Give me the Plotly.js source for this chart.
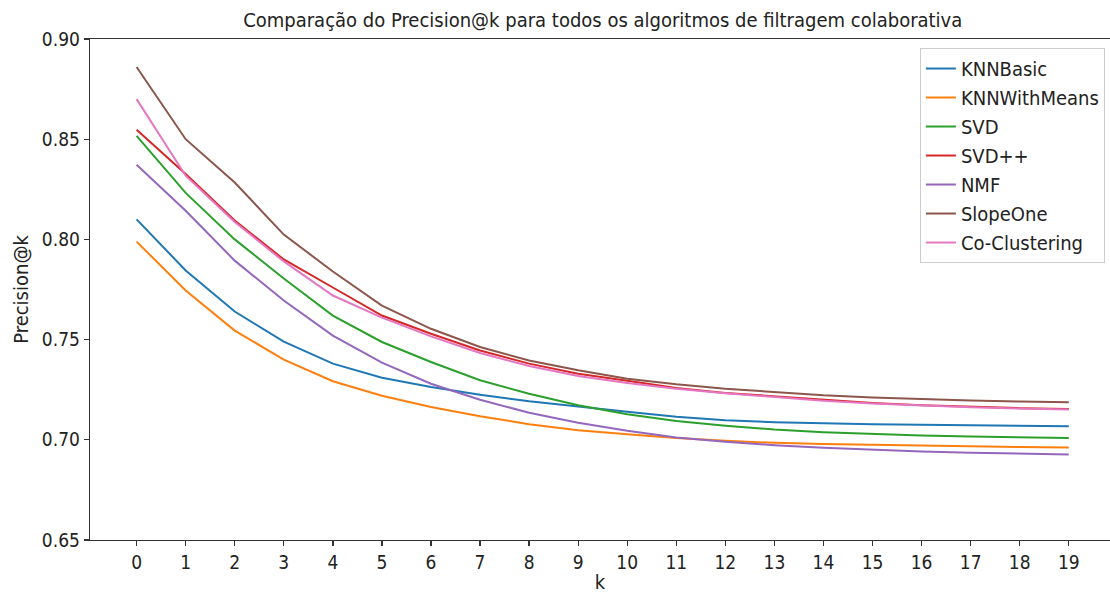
<!DOCTYPE html>
<html>
<head>
<meta charset="utf-8">
<script src="https://cdn.plot.ly/plotly-3.0.1.min.js"></script>
<style>html,body{margin:0;padding:0;background:#fff;}#chart{width:1110px;height:594px;}</style>
</head>
<body>
<div id="chart"></div>
<script>
const kValues = [0,1,2,3,4,5,6,7,8,9,10,11,12,13,14,15,16,17,18,19];
const seriesNames = ["KNNBasic","KNNWithMeans","SVD","SVD++","NMF","SlopeOne","Co-Clustering"];
const knnBasic = [0.810,0.7845,0.764,0.749,0.738,0.731,0.7263,0.7225,0.7192,0.7165,0.7140,0.7115,0.7098,0.7088,0.7082,0.7078,0.7075,0.7072,0.7070,0.7068];
const knnWithMeans = [0.7989,0.7745,0.7545,0.740,0.7292,0.7220,0.7164,0.7118,0.7078,0.7048,0.7028,0.7009,0.6995,0.6985,0.6979,0.6975,0.6970,0.6967,0.6964,0.6962];
const svd = [0.8517,0.8232,0.800,0.7805,0.762,0.7488,0.7388,0.7297,0.723,0.7172,0.7128,0.7094,0.7070,0.7051,0.7038,0.7028,0.7021,0.7016,0.7012,0.7009];
const svdpp = [0.8547,0.8326,0.8094,0.790,0.776,0.762,0.7529,0.7446,0.738,0.733,0.7295,0.7258,0.7234,0.7217,0.7198,0.7184,0.7172,0.7164,0.7158,0.7154];
const nmf = [0.8373,0.8143,0.7894,0.7695,0.752,0.7385,0.728,0.7200,0.7135,0.7085,0.7045,0.7012,0.6990,0.6973,0.6960,0.6950,0.6942,0.6936,0.6931,0.6927];
const slopeOne = [0.886,0.850,0.8284,0.8024,0.784,0.767,0.7554,0.7463,0.7396,0.7347,0.7305,0.7277,0.7255,0.7239,0.7222,0.7211,0.7203,0.7196,0.7191,0.7187];
const coClustering = [0.870,0.8318,0.8087,0.789,0.772,0.761,0.7516,0.7433,0.7368,0.7318,0.7284,0.7255,0.7232,0.7214,0.7195,0.7181,0.7170,0.7162,0.7156,0.7151];
const yTicks = [0.65,0.70,0.75,0.80,0.85,0.90];
const yTickText = ["0.65","0.70","0.75","0.80","0.85","0.90"];

const allSeries = [knnBasic,knnWithMeans,svd,svdpp,nmf,slopeOne,coClustering];
const colors = ["#1f77b4","#ff7f0e","#2ca02c","#d62728","#9467bd","#8c564b","#e377c2"];
const font = "DejaVu Sans Condensed, DejaVu Sans, sans-serif";

const traces = allSeries.map((ys,i)=>({
  x: kValues, y: ys, name: seriesNames[i], type: "scatter", mode: "lines",
  line: {color: colors[i], width: 2}
}));

const layout = {
  width: 1110, height: 594,
  margin: {l: 90, r: 0, t: 39, b: 54, pad: 0},
  paper_bgcolor: "#fff", plot_bgcolor: "#fff",
  font: {family: font, size: 19, color: "#222"},
  title: {text: "Comparação do Precision@k para todos os algoritmos de filtragem colaborativa",
          font: {family: font, size: 20, color: "#222"}, x: 0.543, xanchor: "center", y: 0.967, yanchor: "middle"},
  xaxis: {
    range: [-0.95, 19.84], tickmode: "array", tickvals: kValues, ticktext: kValues.map(String),
    showgrid: false, zeroline: false, showline: true, mirror: true, linecolor: "#333", linewidth: 1.3,
    ticks: "outside", ticklen: 5, tickcolor: "#333", tickwidth: 1.3,
    tickfont: {family: font, size: 19, color: "#222"},
    title: {text: "k", font: {family: font, size: 20, color: "#222"}, standoff: 10}
  },
  yaxis: {
    range: [0.65, 0.90], tickmode: "array", tickvals: yTicks, ticktext: yTickText,
    showgrid: false, zeroline: false, showline: true, linecolor: "#333", linewidth: 1.3,
    ticks: "outside", ticklen: 5, tickcolor: "#333", tickwidth: 1.3,
    tickfont: {family: font, size: 19, color: "#222"},
    title: {text: "Precision@k", font: {family: font, size: 20, color: "#222"}, standoff: 8}
  },
  legend: {
    x: 0.995, xanchor: "right", y: 0.982, yanchor: "top",
    bgcolor: "rgba(255,255,255,0.8)", bordercolor: "#ccc", borderwidth: 1,
    font: {family: font, size: 20, color: "#222"}, tracegroupgap: 0, itemwidth: 30
  },
  showlegend: true
};

Plotly.newPlot("chart", traces, layout, {displayModeBar: false, staticPlot: true});
</script>
</body>
</html>
